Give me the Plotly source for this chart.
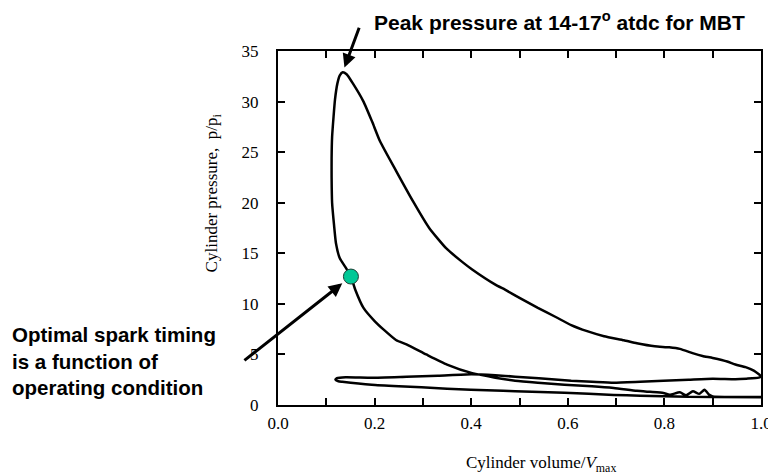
import plotly.graph_objects as go

# ---- data ----
# compression stroke (from BDC leftwards), combustion, expansion, exhaust, intake
cycle_v = [1.0, 0.95, 0.9, 0.893, 0.883, 0.872, 0.859, 0.845, 0.832, 0.811, 0.798, 0.77, 0.743,
           0.695, 0.65, 0.593, 0.538, 0.491, 0.45, 0.402, 0.35, 0.307, 0.266, 0.245, 0.22, 0.2,
           0.177, 0.16, 0.151,
           0.14, 0.128, 0.12, 0.116, 0.112, 0.111, 0.111, 0.112, 0.115, 0.118, 0.123, 0.128, 0.134,
           0.142, 0.155, 0.177, 0.195, 0.211, 0.245, 0.28, 0.313, 0.348, 0.38, 0.402, 0.45, 0.47,
           0.5, 0.538, 0.575, 0.607, 0.64, 0.675, 0.716, 0.743, 0.78, 0.81, 0.832, 0.86, 0.879,
           0.9, 0.93, 0.947, 0.968, 0.985, 1.0,
           0.995, 0.97, 0.947, 0.9, 0.85, 0.798, 0.75, 0.695, 0.65, 0.607, 0.54, 0.491, 0.45,
           0.4, 0.331, 0.266, 0.194, 0.14, 0.122, 0.119,
           0.125, 0.133, 0.194, 0.25, 0.297, 0.35, 0.399, 0.466, 0.491, 0.593, 0.695, 0.75,
           0.798, 0.9, 1.0]
cycle_p = [0.78, 0.8, 0.85, 1.0, 1.5, 1.1, 1.36, 0.96, 1.25, 1.02, 1.19, 1.3, 1.4,
           1.68, 1.85, 2.0, 2.2, 2.4, 2.7, 3.15, 4.0, 5.0, 6.0, 6.4, 7.4, 8.3,
           9.6, 11.4, 12.7,
           13.6, 14.5, 16.0, 17.8, 20.0, 22.5, 24.4, 26.5, 28.5, 30.2, 31.8, 32.6, 32.9,
           32.7, 31.8, 30.0, 28.0, 26.1, 23.1, 20.1, 17.5, 15.5, 14.2, 13.4, 11.9, 11.4,
           10.6, 9.6, 8.7, 7.9, 7.3, 6.8, 6.4, 6.1, 5.8, 5.7, 5.55, 5.1, 4.85,
           4.65, 4.3, 4.0, 3.75, 3.4, 2.85,
           2.7, 2.6, 2.55, 2.6, 2.5, 2.4, 2.3, 2.2, 2.3, 2.4, 2.65, 2.8, 2.95,
           3.05, 2.9, 2.8, 2.7, 2.75, 2.65, 2.5,
           2.35, 2.3, 2.0, 1.85, 1.75, 1.6, 1.5, 1.4, 1.35, 1.2, 1.0, 0.92,
           0.86, 0.78, 0.76]

spark_v = [0.151]
spark_p = [12.7]

x_tickvals = [0.0, 0.2, 0.4, 0.6, 0.8, 1.0]
x_ticktext = ["0.0", "0.2", "0.4", "0.6", "0.8", "1.0"]
x_minor_step = 0.1
y_tickvals = [0, 5, 10, 15, 20, 25, 30, 35]

peak_label = "<b>Peak pressure at 14-17<sup>o</sup> atdc for MBT</b>"
spark_label = "<b>Optimal spark timing<br>is a function of<br>operating condition</b>"
x_title = "Cylinder volume/<i>V</i><sub>max</sub>"
y_title = "Cylinder pressure,  p/p<sub>i</sub>"

# ---- figure ----
serif = "Liberation Serif, Times New Roman, serif"
sans = "Liberation Sans, Arial, sans-serif"

fig = go.Figure()
fig.add_trace(go.Scatter(x=cycle_v, y=cycle_p, mode="lines",
                         line=dict(color="black", width=2.5, shape="spline", smoothing=0.5),
                         showlegend=False, hoverinfo="skip"))
fig.add_trace(go.Scatter(x=spark_v, y=spark_p, mode="markers",
                         marker=dict(size=15, color="#00C896",
                                     line=dict(color="#1d3d33", width=1)),
                         showlegend=False))

i_peak = cycle_p.index(max(cycle_p))
peak_x, peak_y = cycle_v[i_peak], cycle_p[i_peak]

annotations = [
    # peak arrow
    dict(x=peak_x, y=peak_y, xref="x", yref="y", text="", showarrow=True,
         ax=17, ay=-46, arrowhead=2, arrowsize=0.9, arrowwidth=3, arrowcolor="black",
         standoff=5),
    dict(x=0.194, y=1.084, xref="paper", yref="paper", text=peak_label, showarrow=False,
         xanchor="left", yanchor="middle", font=dict(family=sans, size=21, color="black")),
    # spark arrow
    dict(x=spark_v[0], y=spark_p[0], xref="x", yref="y", text="", showarrow=True,
         ax=-108, ay=85, arrowhead=2, arrowsize=0.9, arrowwidth=3, arrowcolor="black",
         standoff=11),
    dict(x=-0.555, y=0.125, xref="paper", yref="paper", text=spark_label, showarrow=False,
         xanchor="left", yanchor="middle", align="left",
         font=dict(family=sans, size=20.5, color="black")),
    # axis titles
    dict(x=0.544, y=-0.168, xref="paper", yref="paper", text=x_title, showarrow=False,
         xanchor="center", yanchor="middle", font=dict(family=serif, size=17, color="black")),
    dict(x=-0.135, y=0.6, xref="paper", yref="paper", text=y_title, showarrow=False,
         textangle=-90, xanchor="center", yanchor="middle",
         font=dict(family=serif, size=17, color="black")),
]

fig.update_layout(
    width=776, height=474,
    margin=dict(l=270, r=17, t=43, b=77),
    paper_bgcolor="white", plot_bgcolor="white",
    annotations=annotations,
    showlegend=False,
)
fig.update_xaxes(range=[0, 1], tickvals=x_tickvals, ticktext=x_ticktext,
                 showgrid=False, zeroline=False, showline=True, linecolor="black",
                 linewidth=2, mirror="ticks", ticks="inside", ticklen=7, tickwidth=1.5,
                 tickcolor="black", ticklabelstandoff=2,
                 minor=dict(dtick=x_minor_step, tick0=0, ticks="inside", ticklen=7,
                            tickwidth=1.5, tickcolor="black", showgrid=False),
                 tickfont=dict(family=serif, size=17, color="black"))
fig.update_yaxes(range=[0, 35], tickvals=y_tickvals,
                 showgrid=False, zeroline=False, showline=True, linecolor="black",
                 linewidth=2, mirror="ticks", ticks="inside", ticklen=7, tickwidth=1.5,
                 tickcolor="black", ticklabelstandoff=14,
                 tickfont=dict(family=serif, size=17, color="black"))

fig.write_html("out.html")
